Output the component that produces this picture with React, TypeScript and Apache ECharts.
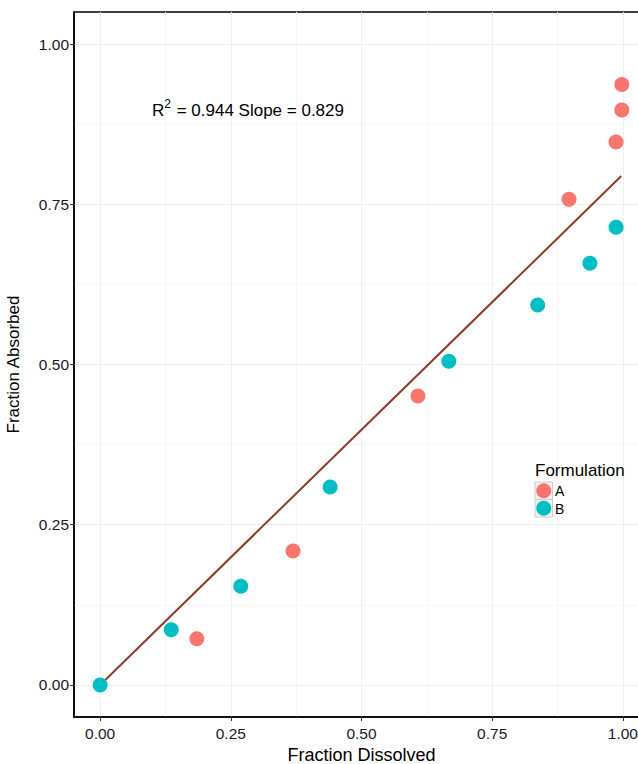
import React, { useEffect, useRef } from "react";
import * as echarts from "echarts";

const seriesNames = ["A", "B"];
const colors = ["#F8766D", "#00BFC4"];
const pointsA: [number, number][] = [
  [0.185, 0.072],
  [0.369, 0.209],
  [0.608, 0.451],
  [0.897, 0.758],
  [0.987, 0.847],
  [0.998, 0.897],
  [0.998, 0.937],
];
const pointsB: [number, number][] = [
  [0.0, 0.0],
  [0.136, 0.086],
  [0.269, 0.154],
  [0.44, 0.309],
  [0.667, 0.505],
  [0.837, 0.593],
  [0.937, 0.658],
  [0.987, 0.714],
];
const fitLine: [number, number][] = [
  [0.0, 0.0],
  [0.997, 0.794],
];
const tickValues = [0, 0.25, 0.5, 0.75, 1.0];
const minorValues = [0.125, 0.375, 0.625, 0.875];
const annotation = { r2: "0.944", slope: "0.829" };

const FONT = "'Liberation Sans', Arial, Helvetica, sans-serif";

export default function App() {
  const ref = useRef<HTMLDivElement>(null);
  useEffect(() => {
    if (!ref.current) return;
    const chart = echarts.init(ref.current, undefined, { renderer: "svg" });
    const axisCommon = {
      type: "value" as const,
      min: -0.05,
      max: 1.05,
      nameLocation: "middle" as const,
    };
    const mainAxis = (name: string, gap: number, margin: number, nameSize: number) => ({
      ...axisCommon,
      name,
      nameGap: gap,
      nameTextStyle: { fontFamily: FONT, fontSize: nameSize, color: "#000" },
      axisLine: { show: true, onZero: false, lineStyle: { color: "#000", width: 1.5 } },
      axisTick: { show: true, length: 4, customValues: tickValues, lineStyle: { color: "#333", width: 1 } },
      splitLine: { show: true, lineStyle: { color: "#efefef", width: 1 } },
      axisLabel: {
        customValues: tickValues,
        formatter: (v: number) => v.toFixed(2),
        fontFamily: FONT,
        fontSize: 15.5,
        color: "#1a1a1a",
        margin,
      },
      z: 1,
    });
    const minorAxis = () => ({
      ...axisCommon,
      axisLine: { show: false, onZero: false },
      axisTick: { show: false, customValues: minorValues },
      axisLabel: { show: false, customValues: minorValues },
      splitLine: { show: true, lineStyle: { color: "#f7f7f7", width: 1 } },
      z: 0,
    });
    chart.setOption({
      animation: false,
      backgroundColor: "#fff",
      textStyle: { fontFamily: FONT },
      grid: {
        left: 74,
        top: 12,
        width: 575,
        height: 705,
        outerBoundsMode: "none",
        containLabel: false,
        show: true,
        borderColor: "#000",
        borderWidth: 1.5,
        backgroundColor: "#fff",
      },
      xAxis: [mainAxis("Fraction Dissolved", 28, 8, 18), minorAxis()],
      yAxis: [mainAxis("Fraction Absorbed", 52, 5, 17), minorAxis()],
      series: [
        {
          type: "line",
          data: fitLine,
          showSymbol: false,
          z: 2,
          lineStyle: { color: "#8e3a2b", width: 2 },
        },
        {
          name: seriesNames[0],
          type: "scatter",
          data: pointsA,
          symbolSize: 15,
          z: 3,
          itemStyle: { color: colors[0], opacity: 1 },
        },
        {
          name: seriesNames[1],
          type: "scatter",
          data: pointsB,
          symbolSize: 15,
          z: 3,
          itemStyle: { color: colors[1], opacity: 1 },
        },
      ],
      graphic: [
        {
          type: "text",
          x: 152,
          y: 110,
          z: 10,
          style: {
            text: `{r|R}{sup|2}{n| = ${annotation.r2} Slope = ${annotation.slope}}`,
            verticalAlign: "middle",
            rich: {
              r: { fontFamily: FONT, fontSize: 17, fill: "#000" },
              sup: { fontFamily: FONT, fontSize: 12, fill: "#000", padding: [0, 1, 12, 0] },
              n: { fontFamily: FONT, fontSize: 17, fill: "#000" },
            },
          },
        },
        {
          type: "text",
          x: 535,
          y: 470,
          z: 10,
          style: { text: "Formulation", fontFamily: FONT, fontSize: 17, fill: "#000", verticalAlign: "middle" },
        },
        ...seriesNames.flatMap((n, i) => [
          {
            type: "rect",
            z: 10,
            shape: { x: 535, y: 482 + i * 17.5, width: 17.5, height: 17.5 },
            style: { fill: "#f2f2f2", stroke: "#cccccc", lineWidth: 1 },
          },
          {
            type: "circle",
            z: 11,
            shape: { cx: 543.75, cy: 490.75 + i * 17.5, r: 7.5 },
            style: { fill: colors[i] },
          },
          {
            type: "text",
            x: 555,
            y: 491 + i * 17.5,
            z: 11,
            style: { text: n, fontFamily: FONT, fontSize: 14, fill: "#000", verticalAlign: "middle" },
          },
        ]),
      ],
    });
    return () => chart.dispose();
  }, []);
  return (
    <div
      ref={ref}
      style={{ position: "absolute", left: 0, top: 0, width: 638, height: 764 }}
    />
  );
}
